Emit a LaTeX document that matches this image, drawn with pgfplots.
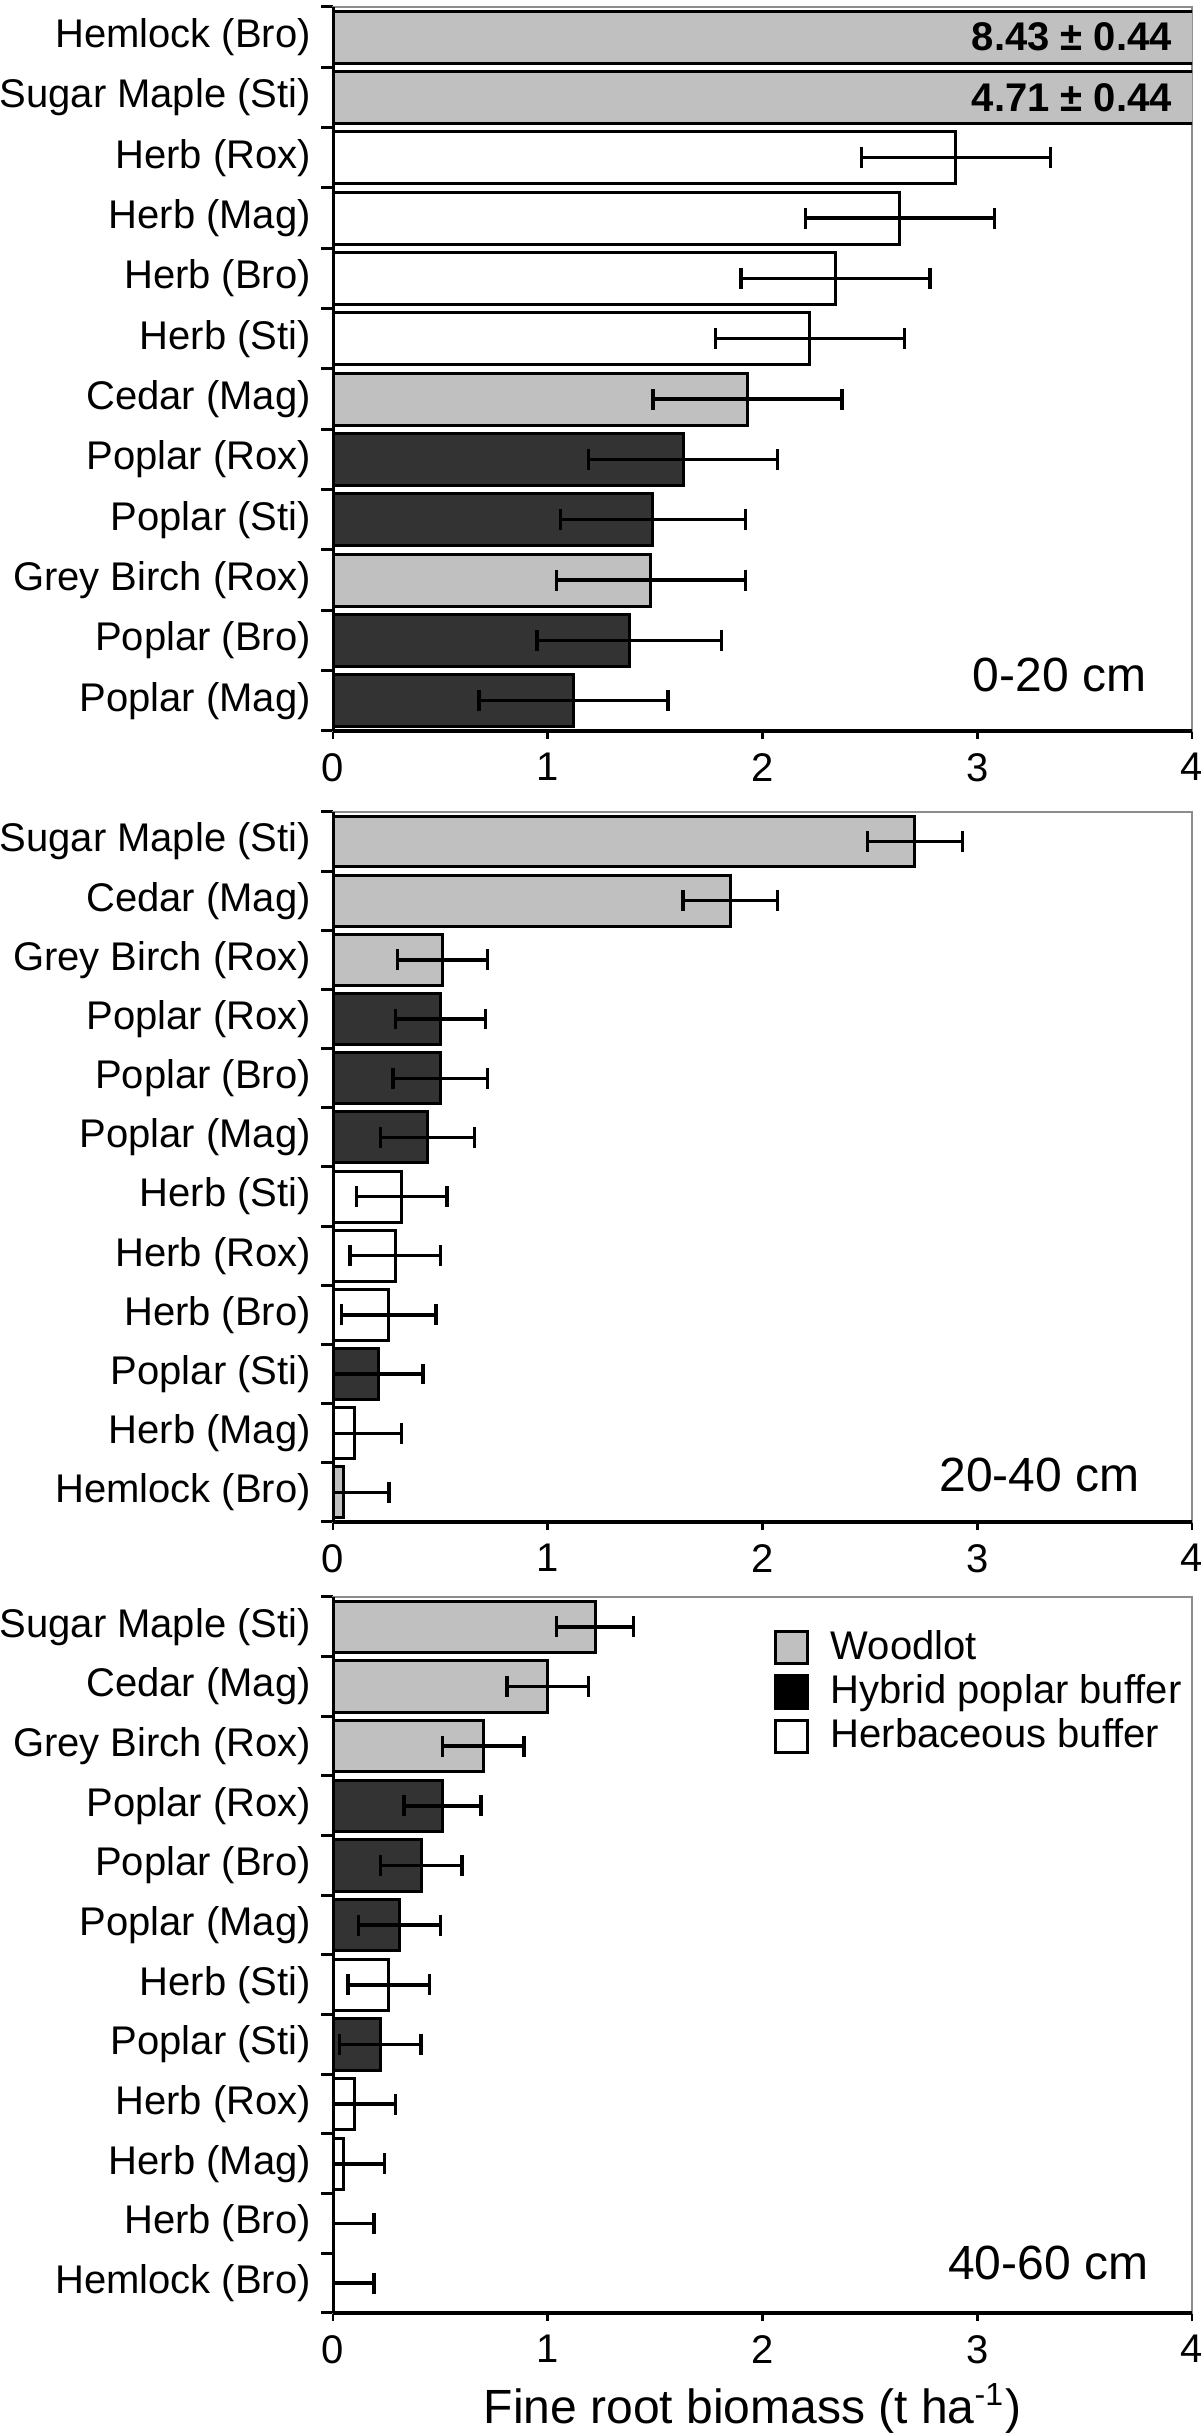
\documentclass[border=0pt]{standalone}
\usepackage{fontspec}
\setmainfont{Liberation Sans}
\usepackage{pgfplots}
\pgfplotsset{compat=1.18}
\definecolor{wood}{HTML}{C0C0C0}
\definecolor{pop}{HTML}{333333}
\definecolor{framegray}{HTML}{8C8C8C}
\tikzset{depthlbl/.style={anchor=east, inner sep=0pt, font=\fontsize{12}{14}\selectfont},
  vallbl/.style={anchor=east, inner sep=0pt, font=\bfseries\fontsize{10}{12}\selectfont}}
\pgfplotsset{
 panel/.style={
  scale only axis, width=214.75pt,
  xmin=0, xmax=4, ymin=-0.5, ymax=11.5,
  xtick={0,1,2,3,4},
  ytick={0,...,11},
  minor ytick={-0.5,0.5,...,11.5},
  tick pos=left,
  tick align=outside,
  major tick length=2pt, minor tick length=3pt,
  major y tick style={draw=none},
  minor y tick style={black, line width=0.75pt},
  major x tick style={black, line width=0.7pt},
  axis line style={draw=framegray, line width=0.6pt},
  tick label style={font=\fontsize{10}{12}\selectfont},
  /pgf/number format/assume math mode=true,
 },
 ser/.style={xbar, bar width=0.86, bar shift=0pt, draw=black, line width=0.75pt,
   error bars/x dir=both, error bars/x explicit,
   error bars/error mark=|,
   error bars/error bar style={black, line width=0.85pt},
   error bars/error mark options={black, mark size=2.6pt, line width=0.85pt}},
 wd/.style={ser, fill=wood},
 pp/.style={ser, fill=pop},
 hb/.style={ser, fill=white},
}
\begin{document}
\begin{tikzpicture}
\useasboundingbox (0,0) rectangle (300pt,609pt);
% ---------- 0-20 cm ----------
\begin{axis}[panel, name=p1, at={(83.25pt,426.25pt)}, anchor=south west, height=181pt,
  yticklabels={Poplar (Mag),Poplar (Bro),Grey Birch (Rox),Poplar (Sti),Poplar (Rox),Cedar (Mag),Herb (Sti),Herb (Bro),Herb (Mag),Herb (Rox),Sugar Maple (Sti),Hemlock (Bro)}]
\addplot[wd] coordinates {(8.43,11) +- (0.44,0) (4.71,10) +- (0.44,0) (1.93,5) +- (0.44,0) (1.48,2) +- (0.44,0)};
\addplot[pp] coordinates {(1.63,4) +- (0.44,0) (1.49,3) +- (0.43,0) (1.38,1) +- (0.43,0) (1.12,0) +- (0.44,0)};
\addplot[hb] coordinates {(2.90,9) +- (0.44,0) (2.64,8) +- (0.44,0) (2.34,7) +- (0.44,0) (2.22,6) +- (0.44,0)};
\node[vallbl] at (axis cs:3.91,11) {8.43 ± 0.44};
\node[vallbl] at (axis cs:3.91,10) {4.71 ± 0.44};
\node[depthlbl] at (axis cs:3.79,0.43) {0-20 cm};
\end{axis}
\draw[black, line width=0.75pt] (p1.north west) -- (p1.south west);
\draw[black, line width=1pt] (p1.south west) -- (p1.south east);
% ---------- 20-40 cm ----------
\begin{axis}[panel, name=p2, at={(83.25pt,228.5pt)}, anchor=south west, height=177.5pt,
  yticklabels={Hemlock (Bro),Herb (Mag),Poplar (Sti),Herb (Bro),Herb (Rox),Herb (Sti),Poplar (Mag),Poplar (Bro),Poplar (Rox),Grey Birch (Rox),Cedar (Mag),Sugar Maple (Sti)}]
\addplot[wd] coordinates {(2.71,11) +- (0.22,0) (1.85,10) +- (0.22,0) (0.51,9) +- (0.21,0) (0.05,0) +- (0.21,0)};
\addplot[pp] coordinates {(0.50,8) +- (0.21,0) (0.50,7) +- (0.22,0) (0.44,6) +- (0.22,0) (0.21,2) +- (0.21,0)};
\addplot[hb] coordinates {(0.32,5) +- (0.21,0) (0.29,4) +- (0.21,0) (0.26,3) +- (0.22,0) (0.10,1) +- (0.22,0)};
\node[depthlbl] at (axis cs:3.76,0.29) {20-40 cm};
\end{axis}
\draw[black, line width=0.75pt] (p2.north west) -- (p2.south west);
\draw[black, line width=1pt] (p2.south west) -- (p2.south east);
% ---------- 40-60 cm ----------
\begin{axis}[panel, name=p3, at={(83.25pt,30.75pt)}, anchor=south west, height=179pt,
  yticklabels={Hemlock (Bro),Herb (Bro),Herb (Mag),Herb (Rox),Poplar (Sti),Herb (Sti),Poplar (Mag),Poplar (Bro),Poplar (Rox),Grey Birch (Rox),Cedar (Mag),Sugar Maple (Sti)},
  xlabel={Fine root biomass (t ha\textsuperscript{-1})},
  xlabel style={font=\fontsize{12}{14}\selectfont, at={(axis description cs:0.5,0)}, anchor=base, yshift=-27.5pt, xshift=-2.5pt},
  legend style={at={(0.512,0.955)}, anchor=north west, draw=none, fill=none,
    font=\fontsize{10}{12}\selectfont, row sep=2.3pt, inner sep=0pt,
    nodes={inner sep=0pt},
    /tikz/every odd column/.style={column sep=5.5pt}},
  legend cell align=left,
  legend image code/.code={\draw[#1, line width=0.8pt] (0pt,-4pt) rectangle (8pt,4pt);}]
\addlegendimage{fill=wood, draw=black}
\addlegendentry{Woodlot}
\addlegendimage{fill=black, draw=black}
\addlegendentry{Hybrid poplar buffer}
\addlegendimage{fill=white, draw=black}
\addlegendentry{Herbaceous buffer}
\addplot[wd, forget plot] coordinates {(1.22,11) +- (0.18,0) (1.00,10) +- (0.19,0) (0.70,9) +- (0.19,0) (0.0,0) +- (0.19,0)};
\addplot[pp, forget plot] coordinates {(0.51,8) +- (0.18,0) (0.41,7) +- (0.19,0) (0.31,6) +- (0.19,0) (0.22,4) +- (0.19,0)};
\addplot[hb, forget plot] coordinates {(0.26,5) +- (0.19,0) (0.10,3) +- (0.19,0) (0.05,2) +- (0.19,0) (0.0,1) +- (0.19,0)};
\node[depthlbl] at (axis cs:3.80,0.34) {40-60 cm};
\end{axis}
\draw[black, line width=0.75pt] (p3.north west) -- (p3.south west);
\draw[black, line width=1pt] (p3.south west) -- (p3.south east);
\end{tikzpicture}
\end{document}
